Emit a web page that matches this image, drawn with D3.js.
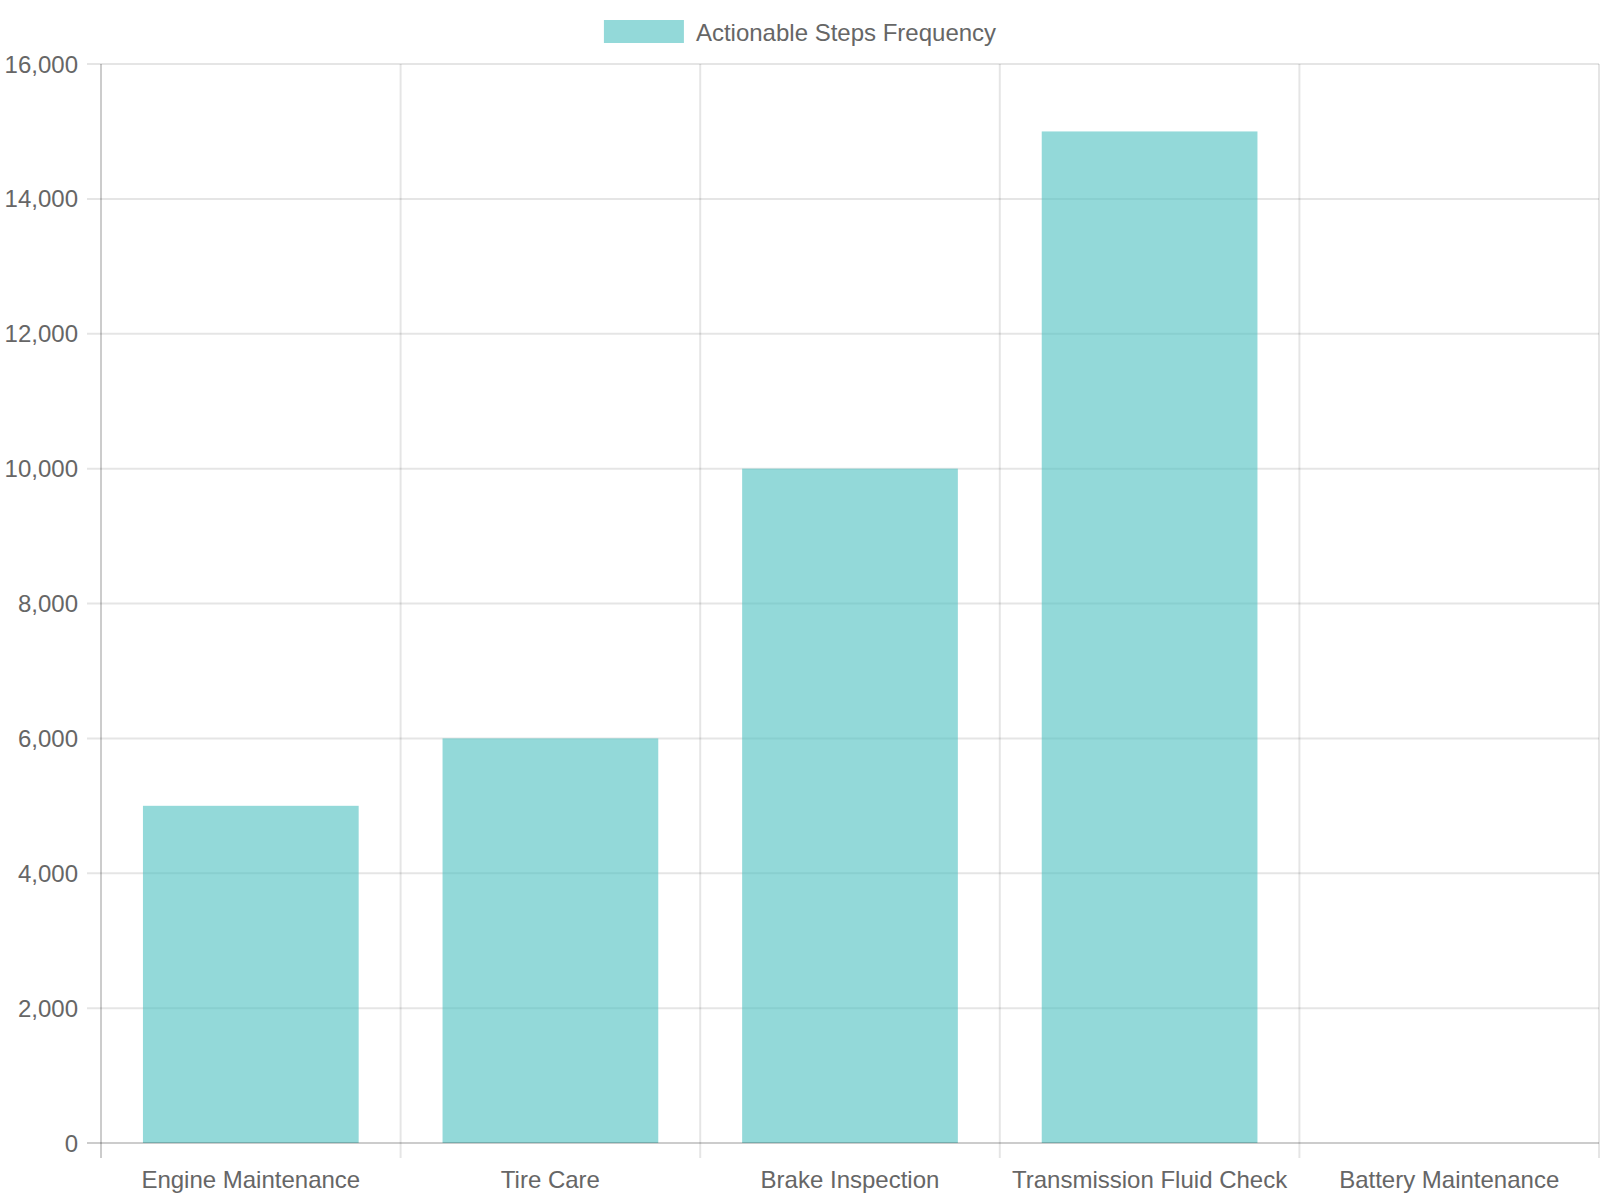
<!DOCTYPE html>
<html>
<head>
<meta charset="utf-8">
<script src="https://cdn.jsdelivr.net/npm/d3@7"></script>
<style>
  html, body { margin: 0; padding: 0; background: #fff; }
  svg { display: block; }
  text { font-family: "Liberation Sans", Arial, Helvetica, sans-serif; fill: #666; }
</style>
</head>
<body>
<svg id="chart" width="1600" height="1200"></svg>
<script>
const categories = ["Engine Maintenance", "Tire Care", "Brake Inspection", "Transmission Fluid Check", "Battery Maintenance"];
const values = [5000, 6000, 10000, 15000, 0];
const yTicks = [0, 2000, 4000, 6000, 8000, 10000, 12000, 14000, 16000];
const seriesName = "Actionable Steps Frequency";

const W = 1600, H = 1200;
const plotLeft = 101, plotRight = 1599, plotTop = 64, plotBottom = 1143;

const svg = d3.select("#chart");

const x = d3.scaleBand().domain(categories).range([plotLeft, plotRight]).padding(0);
const y = d3.scaleLinear().domain([0, 16000]).range([plotBottom, plotTop]);

const fill = "rgba(75,192,192,0.6)";
const gridColor = "rgba(0,0,0,0.1)";
const axisColor = "rgba(0,0,0,0.2)";

// horizontal grid lines (excluding zero line)
svg.append("g").selectAll("line").data(yTicks.filter(d => d !== 0)).join("line")
  .attr("x1", plotLeft - 14).attr("x2", plotRight)
  .attr("y1", d => y(d)).attr("y2", d => y(d))
  .attr("stroke", gridColor)
  .attr("stroke-width", 2);

// vertical grid lines (category boundaries)
const bounds = categories.map(c => x(c)).concat([plotRight]);
svg.append("g").selectAll("line").data(bounds).join("line")
  .attr("x1", d => d).attr("x2", d => d)
  .attr("y1", plotTop).attr("y2", plotBottom + 15)
  .attr("stroke", (d, i) => i === 0 ? axisColor : gridColor)
  .attr("stroke-width", 2);

// bars
const barW = x.bandwidth() * 0.72;
svg.append("g").selectAll("rect").data(categories).join("rect")
  .attr("x", d => x(d) + (x.bandwidth() - barW) / 2)
  .attr("width", barW)
  .attr("y", (d, i) => y(values[i]))
  .attr("height", (d, i) => y(0) - y(values[i]))
  .attr("fill", fill);

// zero line
svg.append("line")
  .attr("x1", plotLeft - 14).attr("x2", plotRight)
  .attr("y1", y(0)).attr("y2", y(0))
  .attr("stroke", axisColor).attr("stroke-width", 2);

// y tick labels
const fmt = d3.format(",");
svg.append("g").selectAll("text").data(yTicks).join("text")
  .attr("x", 78).attr("y", d => y(d))
  .attr("text-anchor", "end")
  .attr("dominant-baseline", "central")
  .attr("font-size", 24)
  .text(d => fmt(d));

// x labels
svg.append("g").selectAll("text").data(categories).join("text")
  .attr("x", d => x(d) + x.bandwidth() / 2)
  .attr("y", 1179)
  .attr("text-anchor", "middle")
  .attr("dominant-baseline", "central")
  .attr("font-size", 24)
  .text(d => d);

// legend
const legendText = svg.append("text")
  .attr("y", 32).attr("dominant-baseline", "central")
  .attr("font-size", 24)
  .text(seriesName);
const tw = legendText.node().getComputedTextLength();
const boxW = 80, gap = 12;
const total = boxW + gap + tw;
const lx = (W - total) / 2;
svg.append("rect")
  .attr("x", lx).attr("y", 20).attr("width", boxW).attr("height", 23)
  .attr("fill", fill);
legendText.attr("x", lx + boxW + gap);
</script>
</body>
</html>
